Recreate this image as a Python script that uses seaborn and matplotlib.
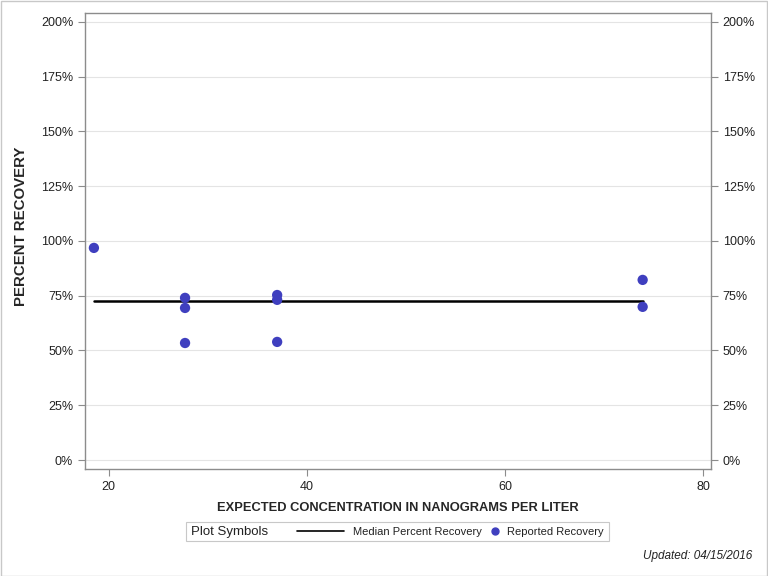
import numpy as np
import pandas as pd
import matplotlib
matplotlib.use("Agg")
import matplotlib.pyplot as plt
from matplotlib.lines import Line2D
from matplotlib.patches import Rectangle
from matplotlib.ticker import FuncFormatter
import seaborn as sns

# ── Data ─────────────────────────────────────────────────────────────
conc = [18.5, 27.7, 27.7, 27.7, 37.0, 37.0, 37.0, 73.9, 73.9]
recovery = [96.8, 74.0, 69.4, 53.4, 75.3, 73.1, 53.9, 82.2, 69.9]
median_x = [18.5, 73.9]
median_y = [72.6, 72.6]
y_ticks = [0, 25, 50, 75, 100, 125, 150, 175, 200]
x_ticks = [20, 40, 60, 80]

df = pd.DataFrame({"conc": conc, "recovery": recovery})
med = pd.DataFrame({"conc": median_x, "recovery": median_y})

sns.set_style("white")
plt.rcParams["font.family"] = ["Liberation Sans", "DejaVu Sans"]

fig = plt.figure(figsize=(7.68, 5.76), dpi=100)
ax = fig.add_axes([85 / 768, 1 - 469 / 576, 626 / 768, 456 / 576])

for y in y_ticks:
    ax.axhline(y, color="#e4e4e4", linewidth=0.8, zorder=0)

sns.lineplot(data=med, x="conc", y="recovery", color="black", linewidth=1.8,
             ax=ax, zorder=2)
sns.scatterplot(data=df, x="conc", y="recovery", color="#3f3fbf", s=55,
                edgecolor="none", ax=ax, zorder=3)

ax.set_xlim(17.6, 80.8)
ax.set_ylim(-4.1, 204)
ax.set_xticks(x_ticks)
ax.set_yticks(y_ticks)
pct = FuncFormatter(lambda v, _: f"{v:.0f}%")
ax.yaxis.set_major_formatter(pct)
ax.tick_params(axis="both", length=5, color="#8c8c8c", labelsize=9,
               labelcolor="#222222", direction="out")
ax.tick_params(axis="y", right=True, labelright=True, left=True)
ax.tick_params(axis="x", bottom=True)
for sp in ax.spines.values():
    sp.set_color("#8c8c8c")
    sp.set_linewidth(1)

ax.set_xlabel("EXPECTED CONCENTRATION IN NANOGRAMS PER LITER",
              fontsize=9.3, fontweight="bold", va="center")
ax.xaxis.set_label_coords(0.5, (469 - 508) / 456)
ax.set_ylabel("PERCENT RECOVERY", fontsize=10.8, fontweight="bold", va="center")
ax.yaxis.set_label_coords((21 - 85) / 626, (469 - 226) / 456)

# legend box
fig.patches.append(Rectangle((186 / 768, 1 - 541 / 576), 423 / 768, 19 / 576,
                             transform=fig.transFigure, facecolor="white",
                             edgecolor="#c8c8c8", linewidth=0.8))
fig.text(191 / 768, 1 - 532 / 576, "Plot Symbols", fontsize=9.5,
         va="center", ha="left", color="#222222")
fig.lines.append(Line2D([297 / 768, 344 / 768], [1 - 531 / 576] * 2,
                        transform=fig.transFigure, color="black", linewidth=1.2))
fig.text(353 / 768, 1 - 532 / 576, "Median Percent Recovery", fontsize=8,
         va="center", ha="left", color="#222222")
fig.lines.append(Line2D([495 / 768], [1 - 531 / 576], transform=fig.transFigure,
                        marker="o", markersize=5, color="#3f3fbf", linestyle="none"))
fig.text(507 / 768, 1 - 532 / 576, "Reported Recovery", fontsize=8,
         va="center", ha="left", color="#222222")

fig.text(752 / 768, 1 - 556 / 576, "Updated: 04/15/2016", fontsize=8.5,
         style="italic", ha="right", va="center", color="#222222")

# outer border
fig.patches.append(Rectangle((0.5 / 768, 0.5 / 576), 766.5 / 768, 574.5 / 576,
                             transform=fig.transFigure, facecolor="none",
                             edgecolor="#c8c8c8", linewidth=1))

fig.savefig("out.png", dpi=100)
plt.close(fig)
